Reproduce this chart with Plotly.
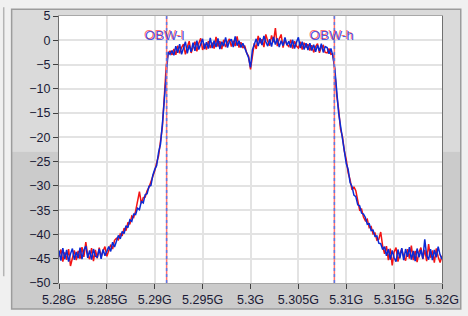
import numpy as np
import plotly.graph_objects as go

# ---------------- data ----------------
F_START_GHZ = 5.28
F_STEP_GHZ = 0.0002
N_POINTS = 201

BLUE_DB = [
    -43.3, -45.4, -42.8, -45.1, -43.2, -45.6, -44.0, -42.9, -45.2, -43.6,
    -44.9, -42.7, -45.1, -43.2, -42.4, -44.8, -43.3, -45.2, -43.0, -44.5,
    -44.7, -43.0, -45.0, -43.1, -44.4, -43.2, -42.5, -43.5, -41.6, -42.6,
    -41.5, -40.2, -40.9, -39.4, -39.8, -38.2, -38.6, -37.0, -37.3, -35.8,
    -35.9, -34.6, -34.9, -33.2, -33.5, -31.8, -31.6, -30.1, -29.9, -27.8,
    -26.6, -25.8, -23.1, -21.4, -17.2, -12.3, -5.8, -2.4, -2.9, -2.1,
    -3.1, -1.2, -2.6, -0.8, -2.9, -1.5, -0.3, -2.7, -1.0, -2.4,
    -0.5, -2.2, -0.1, -1.9, -0.9, 0.3, -1.8, -0.4, -1.7, 0.5,
    -1.6, -0.1, -1.4, 0.4, -1.8, -0.3, -1.2, 0.6, -1.5, -0.2,
    0.2, -1.4, 0.8, -1.1, -0.1, -1.5, -0.6, -1.7, -2.4, -3.6,
    -5.6, -2.0, -0.8, 0.3, -1.2, 0.5, -1.0, 0.9, -0.3, -1.2,
    0.2, -1.3, 0.7, -0.9, 0.4, -1.4, -0.1, -1.1, 0.6, -1.0,
    -0.2, -1.5, 0.1, -1.7, -0.4, 0.6, -1.6, -0.3, -1.9, -0.6,
    -2.0, -0.6, -2.1, -0.9, -2.4, -1.0, -2.2, -0.7, -2.5, -1.3,
    -1.5, -2.8, -1.7, -3.2, -5.8, -10.6, -14.9, -17.6, -20.4, -22.1,
    -25.4, -26.6, -29.3, -30.1, -31.9, -32.2, -33.9, -34.1, -35.6, -35.8,
    -36.5, -37.9, -37.8, -39.2, -39.1, -40.4, -40.3, -41.8, -41.9, -43.1,
    -42.5, -44.4, -43.0, -45.2, -43.3, -44.8, -45.6, -43.1, -44.9, -42.8,
    -45.3, -43.0, -44.6, -42.6, -45.2, -43.4, -45.5, -42.9, -44.7, -43.2,
    -45.0, -41.0, -44.3, -45.2, -43.0, -45.3, -43.2, -44.7, -42.5, -44.2, -45.1,
]

RED_DB = [
    -44.6, -43.1, -45.6, -43.7, -45.2, -43.0, -46.5, -44.8, -43.3, -45.3,
    -43.4, -45.0, -42.6, -44.6, -41.6, -44.3, -45.1, -42.8, -45.5, -43.2,
    -44.9, -42.7, -44.6, -43.4, -42.5, -44.5, -43.0, -42.1, -43.0, -41.2,
    -40.8, -41.1, -39.9, -40.3, -38.7, -39.2, -37.5, -37.9, -36.2, -36.5,
    -35.2, -33.5, -31.2, -33.6, -32.4, -32.3, -31.0, -30.3, -29.2, -27.9,
    -26.9, -25.2, -23.8, -20.8, -17.8, -11.6, -5.2, -2.8, -2.2, -3.0,
    -1.8, -3.0, -1.1, -2.7, -1.5, -0.8, -2.9, -1.4, -0.2, -2.6,
    -1.2, -0.3, -2.3, -0.6, 0.4, -2.0, -0.7, -1.9, -0.2, -1.6,
    -0.5, -1.7, 0.7, -1.3, -0.2, -1.8, 0.1, -1.4, -0.4, 0.3,
    -1.3, -0.1, -1.2, 0.8, -1.5, -0.4, -1.6, -1.1, -2.6, -3.3,
    -6.0, -2.7, -0.6, -1.8, 0.9, -0.6, 0.2, -1.4, 1.2, -0.2,
    -1.1, 1.0, -0.4, 2.5, -1.2, 0.3, 1.2, -1.5, 0.1, -0.9,
    -1.3, 0.1, -1.7, -0.2, -1.2, -1.6, -0.3, -1.9, -0.5, -1.5,
    -0.8, -2.1, -1.0, -2.5, -1.3, -0.7, -2.6, -1.4, -1.1, -2.5,
    -2.6, -1.7, -2.9, -2.8, -6.2, -11.3, -14.2, -18.3, -19.8, -22.8,
    -24.6, -27.3, -28.7, -30.8, -30.2, -31.0, -33.2, -35.0, -34.8, -36.4,
    -37.2, -36.9, -38.6, -38.4, -39.9, -39.7, -41.2, -41.0, -39.5, -42.4,
    -44.0, -42.4, -45.3, -42.9, -46.4, -43.6, -42.7, -45.6, -43.9, -43.0,
    -44.6, -45.4, -43.0, -45.0, -42.3, -45.3, -43.4, -45.7, -43.6, -42.7,
    -45.1, -43.2, -45.5, -42.0, -44.8, -43.3, -45.8, -42.9, -44.6, -45.8, -44.4,
]

OBW_NAMES = ["OBW-l", "OBW-h"]
OBW_GHZ = [5.29124, 5.30876]

X_TICK_VALS = [5.28, 5.285, 5.29, 5.295, 5.30, 5.305, 5.31, 5.315, 5.32]
X_TICK_LABELS = ["5.28G", "5.285G", "5.29G", "5.295G", "5.3G",
                 "5.305G", "5.31G", "5.315G", "5.32G"]
Y_TICK_VALS = [5, 0, -5, -10, -15, -20, -25, -30, -35, -40, -45, -50]

freq = F_START_GHZ + F_STEP_GHZ * np.arange(N_POINTS)

# ---------------- figure ----------------
W, H = 468, 316
L, R, T, B = 59, 21, 9, 29
PW, PH = W - L - R, H - T - B


def px(xp):
    return (xp - L) / PW


def py(yp):
    return (H - B - yp) / PH


fig = go.Figure()
fig.add_trace(go.Scatter(x=freq, y=RED_DB, mode="lines",
                         line=dict(color="#f41414", width=1.5),
                         hoverinfo="skip", showlegend=False))
fig.add_trace(go.Scatter(x=freq, y=BLUE_DB, mode="lines",
                         line=dict(color="#0a2ad6", width=1.5),
                         hoverinfo="skip", showlegend=False))

shapes = [
    # panel
    dict(type="rect", xref="paper", yref="paper", layer="below",
         x0=px(11), x1=px(466), y0=py(2), y1=py(150),
         fillcolor="#dadada", line=dict(width=0)),
    dict(type="rect", xref="paper", yref="paper", layer="below",
         x0=px(11), x1=px(466), y0=py(150), y1=py(314),
         fillcolor="#cbcbcb", line=dict(width=0)),
    dict(type="rect", xref="paper", yref="paper", layer="below",
         x0=px(11), x1=px(466), y0=py(2), y1=py(314),
         fillcolor="rgba(0,0,0,0)", line=dict(color="#9c9c9c", width=1.5)),
    dict(type="line", xref="paper", yref="paper", layer="below",
         x0=px(3), x1=px(3), y0=py(0), y1=py(280),
         line=dict(color="#b4b4b4", width=1.5)),
    # plot area
    dict(type="rect", xref="paper", yref="paper", layer="below",
         x0=0, x1=1, y0=0, y1=1, fillcolor="white", line=dict(width=0)),
]
annotations = []
for name, f in zip(OBW_NAMES, OBW_GHZ):
    shapes.append(dict(type="line", xref="x", yref="paper", x0=f, x1=f, y0=0, y1=1,
                       line=dict(color="#ff7070", width=1.5)))
    shapes.append(dict(type="line", xref="x", yref="paper", x0=f, x1=f, y0=0, y1=1,
                       line=dict(color="#5a7ae6", width=1.5, dash="3px,3px")))
    annotations.append(dict(x=f, y=0.3, xref="x", yref="y", text=name,
                            showarrow=False, xanchor="center", yanchor="middle",
                            xshift=-2, yshift=3.5,
                            font=dict(family="Liberation Sans, Arial", size=13.5,
                                      color="rgba(60,70,220,0.9)",
                                      shadow="-1px -1.5px 0px rgba(255,60,60,0.8)")))

axis_font = dict(family="Liberation Sans, Arial", size=12.5, color="#1a1a36")
fig.update_layout(
    width=W, height=H,
    margin=dict(l=L, r=R, t=T, b=B, pad=0),
    paper_bgcolor="#f0f0f0",
    plot_bgcolor="white",
    shapes=shapes,
    annotations=annotations,
    xaxis=dict(range=[5.28, 5.32], tickvals=X_TICK_VALS, ticktext=X_TICK_LABELS,
               showgrid=True, gridcolor="#e3e3e3", gridwidth=2,
               zeroline=False, showline=True, linecolor="#a8a8a8", linewidth=1,
               mirror=True, ticks="outside", ticklen=5, tickcolor="#404040",
               tickfont=axis_font, fixedrange=True),
    yaxis=dict(range=[-50, 5], tickvals=Y_TICK_VALS,
               showgrid=True, gridcolor="#e3e3e3", gridwidth=2,
               zeroline=False, showline=True, linecolor="#707070", linewidth=1,
               mirror=True, ticks="outside", ticklen=5, tickcolor="#404040",
               tickfont=axis_font, fixedrange=True),
)

fig.write_html("out.html", config={"displayModeBar": False},
               post_script="document.body.style.margin='0';document.body.style.overflow='hidden';")
